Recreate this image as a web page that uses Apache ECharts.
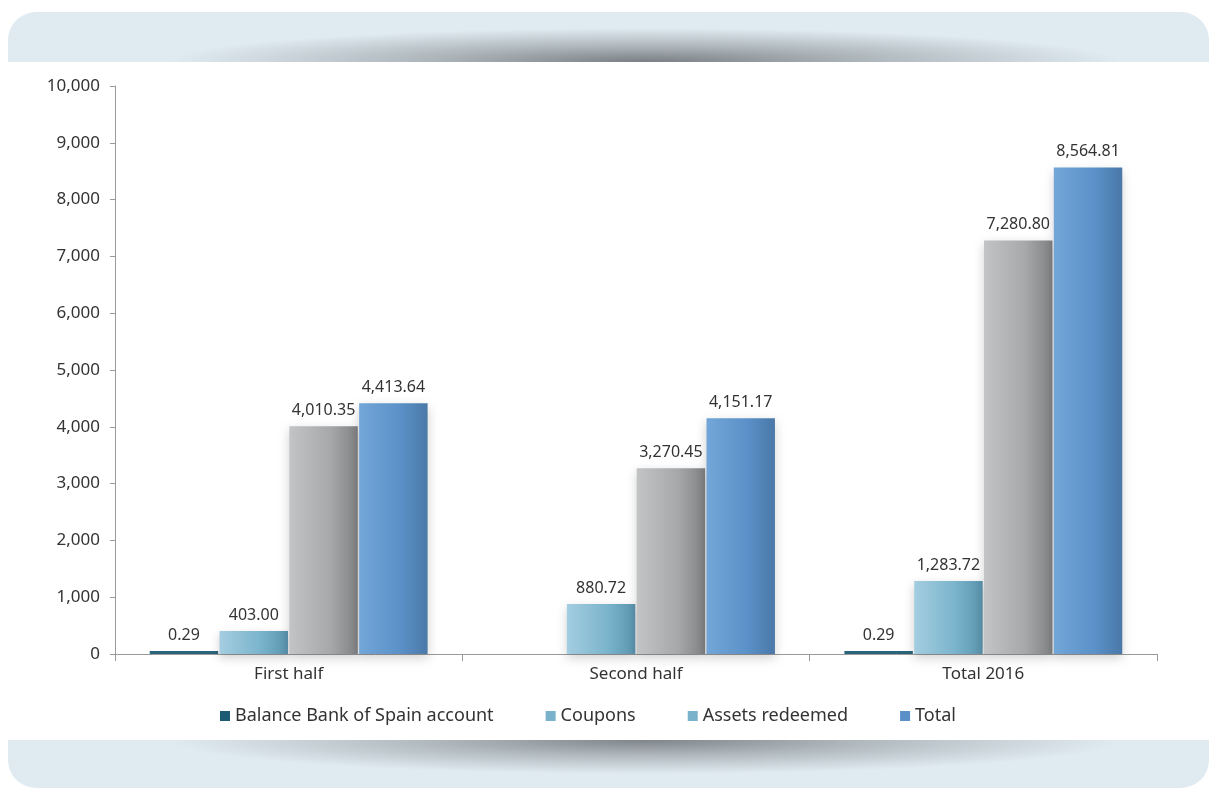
<!DOCTYPE html>
<html>
<head>
<meta charset="utf-8">
<script src="https://cdn.jsdelivr.net/npm/echarts@6/dist/echarts.min.js"></script>
<style>
  html, body { margin: 0; padding: 0; background: #fff; }
  #main { width: 1209px; height: 788px; }
</style>
</head>
<body>
<div id="main"></div>
<script>
// values
var categories = ['First half', 'Second half', 'Total 2016'];
var balance = [0.29, null, 0.29];
var coupons = [403.00, 880.72, 1283.72];
var assets = [4010.35, 3270.45, 7280.80];
var total = [4413.64, 4151.17, 8564.81];
var yTicks = [0, 1000, 10000];

var FONT = '"Noto Sans", "Open Sans", sans-serif';

// shaded bar fill, light on the left and darker on the right edge
function shade(light, mid, dark) {
  return new echarts.graphic.LinearGradient(0, 0, 1, 0, [
    { offset: 0, color: light },
    { offset: 0.6, color: mid },
    { offset: 1, color: dark }
  ]);
}

// soft grey glow for the edges of the two bands (circle stretched sideways)
function glow(cy, alpha) {
  return {
    type: 'circle', z: -9, x: 645, y: cy, scaleX: 14, scaleY: 1,
    shape: { cx: 0, cy: 0, r: 34 },
    style: { fill: new echarts.graphic.RadialGradient(0.5, 0.5, 0.5, [
      { offset: 0, color: 'rgba(110,115,120,' + alpha + ')' },
      { offset: 0.45, color: 'rgba(110,115,120,' + (alpha * 0.5) + ')' },
      { offset: 1, color: 'rgba(110,115,120,0)' }
    ]) }
  };
}

function fmt(v) {
  return Number(v).toLocaleString('en-US', { minimumFractionDigits: 2, maximumFractionDigits: 2 });
}

var labelCfg = {
  show: true,
  position: 'top',
  distance: 8,
  color: '#333',
  fontFamily: FONT,
  fontSize: 16,
  formatter: function (p) { return fmt(p.value); }
};

var myChart = echarts.init(document.getElementById('main'));

myChart.setOption({
  animation: false,
  backgroundColor: '#fff',
  graphic: [
    { type: 'rect', z: -10, shape: { x: 8, y: 12, width: 1201, height: 50, r: [28, 28, 0, 0] }, style: { fill: '#e0ebf1' } },
    { type: 'rect', z: -10, shape: { x: 8, y: 740, width: 1201, height: 48, r: [0, 0, 28, 28] }, style: { fill: '#e0ebf1' } },
    glow(62, 0.9),
    glow(740, 0.85),
    { type: 'rect', z: -8, shape: { x: 0, y: 62, width: 1209, height: 678 }, style: { fill: '#fff' } }
  ],
  grid: { left: 115, right: 52, top: 86, bottom: 134 },
  legend: {
    left: 215,
    top: 702,
    itemWidth: 10,
    itemHeight: 10,
    itemGap: 52,
    icon: 'rect',
    textStyle: { color: '#333', fontFamily: FONT, fontSize: 18 },
    data: [
      { name: 'Balance Bank of Spain account', itemStyle: { color: '#1c5b74' } },
      { name: 'Coupons', itemStyle: { color: '#7ab2cc' } },
      { name: 'Assets redeemed', itemStyle: { color: '#7ab2cc' } },
      { name: 'Total', itemStyle: { color: '#5b8fc8' } }
    ]
  },
  xAxis: {
    type: 'category',
    data: categories,
    axisLine: { lineStyle: { color: '#9a9a9a' } },
    axisTick: { show: true, length: 7, lineStyle: { color: '#9a9a9a' } },
    axisLabel: { color: '#333', fontFamily: FONT, fontSize: 17, margin: 12 }
  },
  yAxis: {
    type: 'value',
    min: yTicks[0],
    max: yTicks[2],
    interval: yTicks[1],
    splitLine: { show: false },
    axisLine: { show: true, lineStyle: { color: '#9a9a9a' } },
    axisTick: { show: true, length: 5, lineStyle: { color: '#9a9a9a' } },
    axisLabel: {
      color: '#333', fontFamily: FONT, fontSize: 17, margin: 15,
      formatter: function (v) { return v.toLocaleString('en-US'); }
    }
  },
  series: [
    {
      name: 'Balance Bank of Spain account',
      type: 'bar',
      data: balance,
      barMinHeight: 3,
      barGap: '2%',
      barCategoryGap: '20%',
      itemStyle: { color: '#2a6479' },
      label: labelCfg
    },
    {
      name: 'Coupons',
      type: 'bar',
      data: coupons,
      itemStyle: {
        color: shade('#a4cde0', '#7ab4cc', '#5a93ad'),
        shadowColor: 'rgba(0,0,0,0.18)', shadowBlur: 10, shadowOffsetY: 4
      },
      label: labelCfg
    },
    {
      name: 'Assets redeemed',
      type: 'bar',
      data: assets,
      itemStyle: {
        color: shade('#c2c4c5', '#a6a8a9', '#7f8182'),
        shadowColor: 'rgba(0,0,0,0.18)', shadowBlur: 10, shadowOffsetY: 4
      },
      label: labelCfg
    },
    {
      name: 'Total',
      type: 'bar',
      data: total,
      itemStyle: {
        color: shade('#73a6d8', '#5b91c8', '#4a78a8'),
        shadowColor: 'rgba(0,0,0,0.18)', shadowBlur: 10, shadowOffsetY: 4
      },
      label: labelCfg
    }
  ]
});
</script>
</body>
</html>
